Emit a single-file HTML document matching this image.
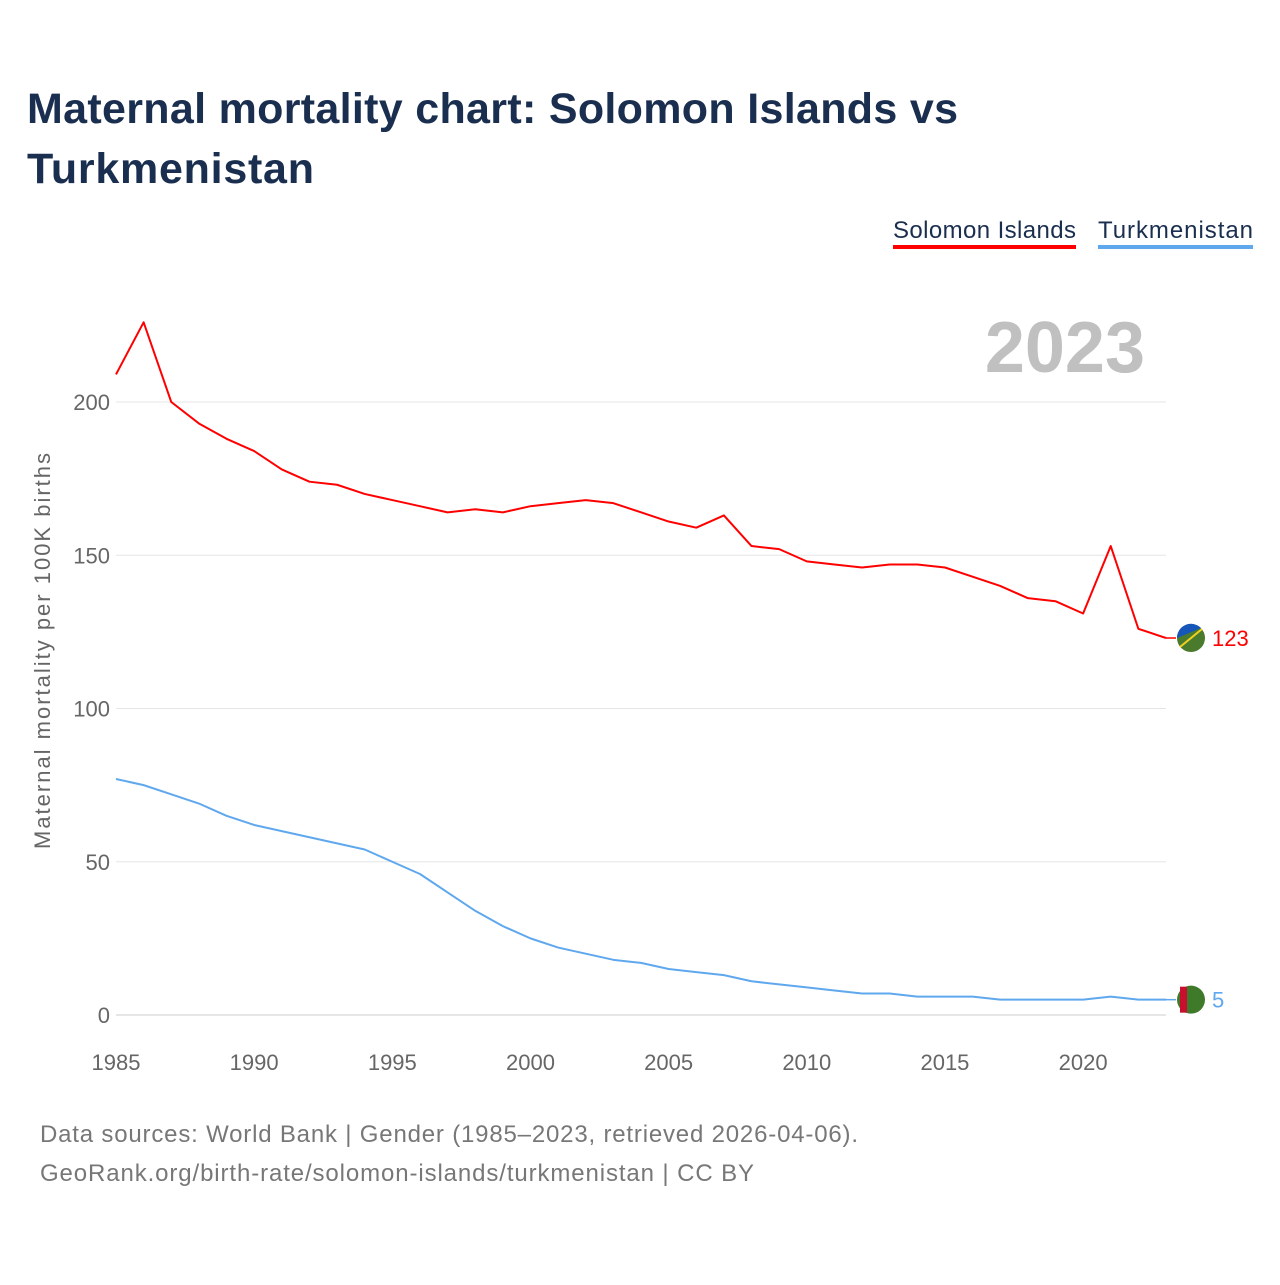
<!DOCTYPE html>
<html><head><meta charset="utf-8"><style>
body{margin:0;background:#fff;width:1280px;height:1280px;overflow:hidden;font-family:"Liberation Sans",sans-serif}
</style></head><body>
<svg id="c" width="1280" height="1280" xmlns="http://www.w3.org/2000/svg">
<text x="27" y="123" font-size="43" font-weight="bold" fill="#1a2e4f" textLength="931">Maternal mortality chart: Solomon Islands vs</text>
<text x="27" y="183" font-size="43" font-weight="bold" fill="#1a2e4f" textLength="287">Turkmenistan</text>
<g><text x="893" y="238" font-size="24" fill="#1a2e4f" textLength="183">Solomon Islands</text><rect x="893" y="245" width="183" height="4" fill="#ff0000"/></g>
<g><text x="1098" y="238" font-size="24" fill="#1a2e4f" textLength="155">Turkmenistan</text><rect x="1098" y="245" width="155" height="4" fill="#5fa8ee"/></g>
<text x="1145" y="372" font-size="72" font-weight="bold" fill="#c0c0c0" text-anchor="end">2023</text>
<text transform="translate(50,651) rotate(-90)" font-size="22" fill="#666" text-anchor="middle" textLength="396">Maternal mortality per 100K births</text>
<g id="grid"></g><g id="series"></g>
<text x="40" y="1142" font-size="24" fill="#777" textLength="818">Data sources: World Bank | Gender (1985–2023, retrieved 2026-04-06).</text>
<text x="40" y="1181" font-size="24" fill="#777" textLength="714">GeoRank.org/birth-rate/solomon-islands/turkmenistan | CC BY</text>
</svg>
<script>
const years=[];for(let y=1985;y<=2023;y++)years.push(y);
const solomon=[209,226,200,193,188,184,178,174,173,170,168,166,164,165,164,166,167,168,167,164,161,159,163,153,152,148,147,146,147,147,146,143,140,136,135,131,153,126,123];
const turkmen=[77,75,72,69,65,62,60,58,56,54,50,46,40,34,29,25,22,20,18,17,15,14,13,11,10,9,8,7,7,6,6,6,5,5,5,5,6,5,5];
const yTicks=[0,50,100,150,200];
const xTicks=[1985,1990,1995,2000,2005,2010,2015,2020];
const NS='http://www.w3.org/2000/svg';
const X=v=>116+(v-1985)*(1166-116)/38;
const Y=v=>1015-v*(1015-402)/200;
const g=document.getElementById('grid'),s=document.getElementById('series');
function mk(tag,at,p){const e=document.createElementNS(NS,tag);for(const k in at)e.setAttribute(k,at[k]);p.appendChild(e);return e;}
yTicks.forEach(t=>{
 const l=mk('line',{x1:116,x2:1166,y1:Y(t),y2:Y(t),stroke:t?'#e6e6e6':'#ccc','stroke-width':1},g);
 
 
 const tx=mk('text',{x:110,y:Y(t)+8,'font-size':22,fill:'#666','text-anchor':'end'},g);tx.textContent=t;
 
 
});
xTicks.forEach(t=>{
 const tx=mk('text',{x:X(t),y:1070,'font-size':22,fill:'#666','text-anchor':'middle'},g);tx.textContent=t;
 
 
});
function line(vals,col,name){
 const p=mk('polyline',{points:vals.map((v,i)=>X(years[i])+','+Y(v)).join(' '),fill:'none',stroke:col,'stroke-width':2,'stroke-linejoin':'round'},s);
 
 
 const last=vals[vals.length-1];
 mk('line',{x1:X(2023),x2:X(2023)+10,y1:Y(last),y2:Y(last),stroke:col,'stroke-width':1.5},s);
 const t=mk('text',{x:X(2023)+46,y:Y(last)+8,'font-size':22,fill:col},s);t.textContent=last;
 
 
}
line(solomon,'#ff0000','solomon-line');
line(turkmen,'#5fa8ee','turkmenistan-line');
const f1=mk('g',{},s);


mk('circle',{cx:1191,cy:Y(123),r:14,fill:'#4a7a2c'},f1);
mk('path',{d:`M1177 ${Y(123)} A14 14 0 0 1 1201 ${Y(123)-10} Z`,fill:'#1556b8'},f1);
mk('line',{x1:1180,y1:Y(123)+9,x2:1202,y2:Y(123)-9,stroke:'#f0d020','stroke-width':2},f1);
const f2=mk('g',{},s);


mk('circle',{cx:1191,cy:Y(5),r:14,fill:'#3f7a2a'},f2);
mk('rect',{x:1180,y:Y(5)-13,width:7,height:26,fill:'#c8102e'},f2);
</script>
</body></html>
